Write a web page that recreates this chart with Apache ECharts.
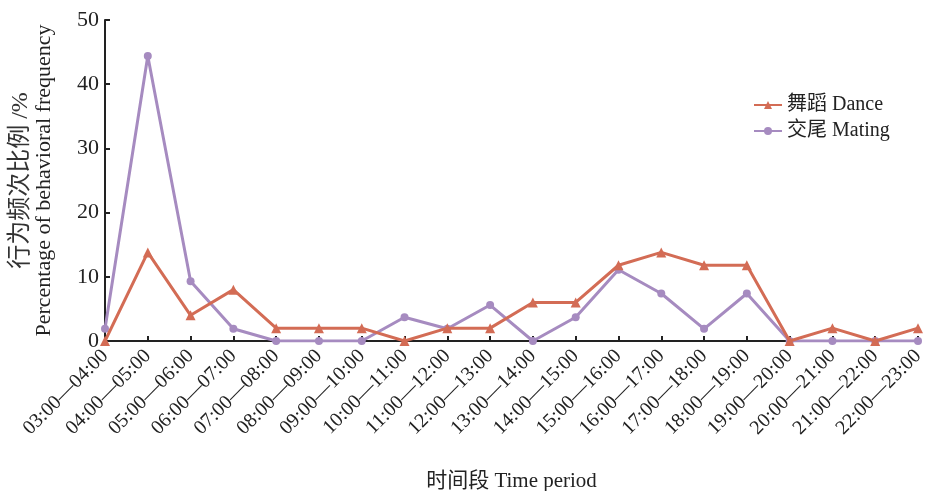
<!DOCTYPE html>
<html lang="en">
<head>
<meta charset="UTF-8">
<title>行为频次比例</title>
<script src="https://cdn.jsdelivr.net/npm/echarts@6/dist/echarts.min.js"></script>
<style>
  html, body { margin: 0; padding: 0; background: #fff; }
  #main { width: 933px; height: 491px; }
</style>
</head>
<body>
<div id="main"></div>
<script>
// 时间段
const periods = ['03:00—04:00', '04:00—05:00', '05:00—06:00', '06:00—07:00', '07:00—08:00',
  '08:00—09:00', '09:00—10:00', '10:00—11:00', '11:00—12:00', '12:00—13:00',
  '13:00—14:00', '14:00—15:00', '15:00—16:00', '16:00—17:00', '17:00—18:00',
  '18:00—19:00', '19:00—20:00', '20:00—21:00', '21:00—22:00', '22:00—23:00'];
// 舞蹈 Dance
const dance = [0, 13.8, 4, 8, 2, 2, 2, 0, 2, 2, 6, 6, 11.8, 13.8, 11.8, 11.8, 0, 2, 0, 2];
// 交尾 Mating
const mating = [1.9, 44.4, 9.3, 1.9, 0, 0, 0, 3.7, 1.9, 5.6, 0, 3.7, 11.1, 7.4, 1.9, 7.4, 0, 0, 0, 0];

const font = '"Liberation Serif", "Noto Sans CJK SC", serif';
const chart = echarts.init(document.getElementById('main'));
chart.setOption({
  backgroundColor: '#ffffff',
  textStyle: { fontFamily: font, color: '#222' },
  grid: { left: 105, right: 15, top: 20, bottom: 150, outerBoundsMode: 'none', containLabel: false },
  legend: {
    orient: 'vertical',
    left: 748,
    top: 90,
    itemWidth: 28,
    itemHeight: 10,
    itemGap: 6,
    textStyle: { fontFamily: font, fontSize: 20, color: '#222' },
    data: ['舞蹈 Dance', '交尾 Mating']
  },
  xAxis: {
    type: 'category',
    data: periods,
    boundaryGap: false,
    name: '时间段 Time period',
    nameLocation: 'middle',
    nameGap: 130,
    nameTextStyle: { fontFamily: font, fontSize: 21, color: '#222' },
    axisLine: { lineStyle: { color: '#222', width: 2 } },
    axisTick: { inside: true, length: 5, lineStyle: { color: '#222', width: 2 } },
    axisLabel: { rotate: 45, fontFamily: font, fontSize: 20, color: '#222', margin: 12, interval: 0 },
    splitLine: { show: false }
  },
  yAxis: {
    type: 'value',
    min: 0,
    max: 50,
    interval: 10,
    name: '{a|行为频次比例 /%}\n{b|Percentage of behavioral frequency}',
    nameLocation: 'middle',
    nameGap: 50,
    nameTextStyle: {
      fontFamily: font, color: '#222',
      rich: {
        a: { fontFamily: font, fontSize: 24, lineHeight: 24, color: '#333' },
        b: { fontFamily: font, fontSize: 22, lineHeight: 22, color: '#222' }
      }
    },
    axisLine: { show: true, lineStyle: { color: '#222', width: 2 } },
    axisTick: { show: true, inside: true, length: 5, lineStyle: { color: '#222', width: 2 } },
    axisLabel: { fontFamily: font, fontSize: 22, color: '#222', margin: 6 },
    splitLine: { show: false }
  },
  series: [
    {
      name: '舞蹈 Dance',
      type: 'line',
      data: dance,
      symbol: 'triangle',
      symbolSize: 10,
      color: '#d36c55',
      lineStyle: { width: 3 },
      z: 3
    },
    {
      name: '交尾 Mating',
      type: 'line',
      data: mating,
      symbol: 'circle',
      symbolSize: 8,
      color: '#a68bc0',
      lineStyle: { width: 3 },
      z: 2
    }
  ]
});
</script>
</body>
</html>
